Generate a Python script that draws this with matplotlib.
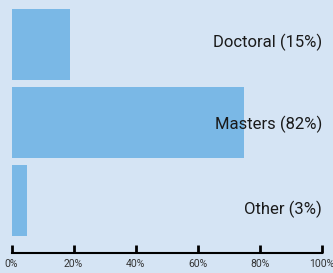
import matplotlib
matplotlib.use("Agg")
import matplotlib.pyplot as plt

categories = ["Doctoral", "Masters", "Other"]
bar_values = [18.8, 74.9, 5.0]
label_pct = [15, 82, 3]
ticks = [0, 20, 40, 60, 80, 100]

fam = ["Roboto", "DejaVu Sans"]

bg = "#d5e4f4"
fig = plt.figure(figsize=(3.33, 2.73), dpi=100, facecolor=bg)
ax = fig.add_axes([11.5 / 333, 20 / 273, 310.5 / 333, 253 / 273], facecolor=bg)

ys = list(range(len(categories)))
ax.barh(ys, bar_values, height=71 / 78, color="#7ab8e6", align="center")

# small per-label nudges to match the reference placement
nudge = [-0.03, 0.03, 0.11]
for y, name, p, d in zip(ys, categories, label_pct, nudge):
    ax.text(100, y + d, f"{name} ({p}%)", ha="right", va="center",
            fontsize=12, color="#1a1a1a", family=fam)

ax.set_xlim(0, 100)
ax.set_ylim(2.673, -0.5705)
ax.set_xticks(ticks)
ax.set_xticklabels([f"{t}%" for t in ticks], family=fam, fontsize=7.5, color="#333333")
ax.set_yticks([])
for s in ["top", "right", "left"]:
    ax.spines[s].set_visible(False)
ax.spines["bottom"].set_linewidth(1.5)
ax.tick_params(axis="x", direction="in", length=6, width=2, pad=4)

fig.savefig("out.png", dpi=100, facecolor=bg)
